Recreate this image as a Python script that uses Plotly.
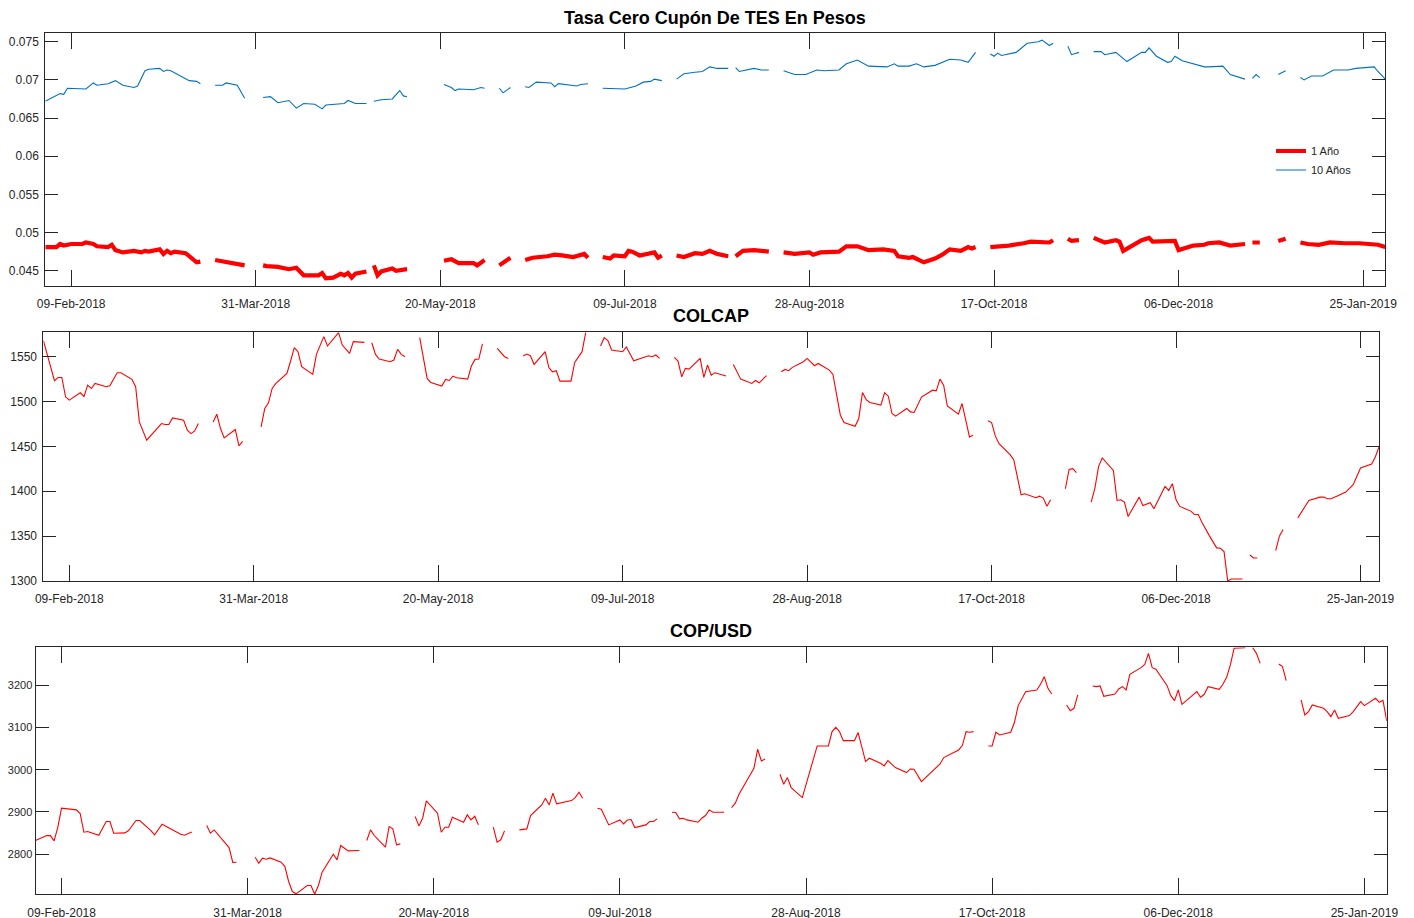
import pandas as pd
import plotly.graph_objects as go

# all series are indexed in days since ORIGIN; None marks a day without a quote
ORIGIN = "2018-02-02"
X_END_TES = 363
X_END_COLCAP = 362
X_END_COP = 363

x_tick_dates = ["2018-02-09", "2018-03-31", "2018-05-20", "2018-07-09",
                "2018-08-28", "2018-10-17", "2018-12-06", "2019-01-25"]

# -----------------------------------------------------------------------------
# Tasa cero cupon TES (1 y 10 anos)
# -----------------------------------------------------------------------------
tes_1y_day = [0, 3, 4, 5, 7, 10, 11, 13, 14, 17, 18, 19, 21, 24, 26, 27, 28, 31, 32, 33,
              34, 35, 38, 40, 41, 42, 44, 46, 49, 54, 56, 59, 60, 63, 66, 68, 70, 74, 75,
              76, 78, 80, 81, 82, 83, 84, 87, 88, 89, 90, 91, 94, 95, 98, 103, 108, 110,
              112, 116, 117, 119, 121, 123, 126, 128, 130, 132, 136, 138, 140, 143, 146,
              147, 149, 151, 153, 154, 157, 158, 159, 161, 164, 165, 166, 167, 169, 171,
              173, 176, 178, 180, 182, 185, 186, 187, 189, 192, 196, 198, 200, 203, 207,
              208, 210, 215, 217, 220, 223, 227, 230, 231, 234, 235, 238, 241, 243, 245,
              248, 250, 251, 252, 254, 256, 261, 265, 267, 272, 273, 275, 277, 278, 280,
              282, 284, 287, 290, 291, 292, 297, 299, 300, 306, 307, 311, 314, 315, 318,
              321, 325, 326, 327, 329, 331, 334, 336, 338, 340, 342, 345, 348, 352, 356,
              361, 363]
tes_1y = [0.0481, 0.0481, 0.0485, 0.0483, 0.0485, 0.0485, 0.0487, 0.0485, 0.0482, 0.0481,
          0.0484, 0.0477, 0.0474, 0.0476, 0.0474, 0.0476, 0.0475, 0.0478, 0.0472, 0.0476,
          0.0473, 0.0475, 0.0473, 0.0464, 0.0461, 0.0462, None, 0.0464, 0.0461, 0.0457,
          None, 0.0457, 0.0456, 0.0455, 0.0452, 0.0454, 0.0444, 0.0444, 0.0447, 0.0440,
          0.0441, 0.0446, 0.0444, 0.0447, 0.0441, 0.0446, 0.0449, None, 0.0457, 0.0444,
          0.0449, 0.0453, 0.0450, 0.0452, None, 0.0463, 0.0465, 0.0460, 0.0460, 0.0457,
          0.0464, None, 0.0457, 0.0467, None, 0.0464, 0.0467, 0.0469, 0.0471, 0.0470,
          0.0468, 0.0472, 0.0467, None, 0.0468, 0.0466, 0.0470, 0.0469, 0.0476, 0.0475,
          0.0470, 0.0473, 0.0474, 0.0467, 0.0470, None, 0.0470, 0.0468, 0.0473, 0.0472,
          0.0476, 0.0472, 0.0469, None, 0.0469, 0.0476, 0.0477, 0.0475, None, 0.0474,
          0.0472, 0.0474, 0.0471, 0.0474, 0.0475, 0.0482, 0.0482, 0.0477, 0.0478, 0.0476,
          0.0469, 0.0467, 0.0468, 0.0461, 0.0466, 0.0471, 0.0478, 0.0476, 0.0481, 0.0479,
          0.0481, None, 0.0481, 0.0483, 0.0486, 0.0488, 0.0487, 0.0490, None, 0.0492,
          0.0489, 0.0490, None, 0.0493, 0.0487, 0.0490, 0.0488, 0.0476, 0.0490, 0.0493,
          0.0488, 0.0489, 0.0477, 0.0483, 0.0484, 0.0486, 0.0487, 0.0483, 0.0485, None,
          0.0487, 0.0487, None, 0.0489, 0.0492, None, 0.0487, 0.0485, 0.0484, 0.0487,
          0.0486, 0.0486, 0.0484, 0.0481]

tes_10y_day = [0, 4, 5, 6, 11, 13, 14, 17, 19, 21, 24, 25, 27, 28, 31, 32, 33, 34, 39, 41,
               42, 44, 46, 48, 49, 52, 54, 56, 59, 61, 63, 66, 68, 70, 73, 75, 76, 81, 82,
               84, 87, 88, 89, 91, 94, 96, 97, 98, 103, 108, 110, 111, 112, 116, 118, 119,
               121, 123, 124, 126, 128, 130, 131, 133, 137, 138, 139, 144, 145, 147, 149,
               151, 157, 160, 162, 164, 165, 167, 169, 171, 173, 176, 178, 180, 182, 185,
               186, 187, 188, 192, 194, 196, 198, 200, 203, 206, 209, 211, 215, 217, 220,
               223, 228, 230, 231, 234, 236, 238, 241, 245, 248, 250, 252, 254, 256, 257,
               258, 259, 263, 266, 269, 270, 272, 273, 275, 277, 278, 280, 282, 284, 286,
               287, 290, 293, 297, 298, 299, 301, 304, 305, 306, 308, 312, 314, 315, 319,
               321, 325, 326, 327, 328, 329, 331, 334, 336, 338, 340, 341, 343, 346, 349,
               353, 355, 357, 360, 361, 363]
tes_10y = [0.0672, 0.0682, 0.0681, 0.0689, 0.0688, 0.0696, 0.0693, 0.0695, 0.0699, 0.0693,
           0.0690, 0.0692, 0.0712, 0.0714, 0.0715, 0.0711, 0.0713, 0.0712, 0.0699, 0.0698,
           0.0695, None, 0.0693, 0.0693, 0.0696, 0.0693, 0.0676, None, 0.0677, 0.0678,
           0.0670, 0.0673, 0.0663, 0.0669, 0.0668, 0.0662, 0.0667, 0.0669, 0.0673, 0.0669,
           0.0669, None, 0.0672, 0.0674, 0.0675, 0.0686, 0.0679, 0.0678, None, 0.0694,
           0.0690, 0.0686, 0.0688, 0.0687, 0.0690, 0.0689, None, 0.0689, 0.0683, 0.0690,
           None, 0.0691, 0.0690, 0.0697, 0.0696, 0.0691, 0.0695, 0.0692, 0.0694, 0.0695,
           None, 0.0689, 0.0688, 0.0692, 0.0697, 0.0698, 0.0701, 0.0699, None, 0.0701,
           0.0708, 0.0710, 0.0711, 0.0717, 0.0715, 0.0715, None, 0.0716, 0.0711, 0.0715,
           0.0713, 0.0713, None, 0.0712, 0.0707, 0.0707, 0.0713, 0.0712, 0.0713, 0.0721,
           0.0726, 0.0718, 0.0717, 0.0721, 0.0718, 0.0718, 0.0721, 0.0717, 0.0719, 0.0727,
           0.0726, 0.0723, 0.0736, None, 0.0734, 0.0731, 0.0735, 0.0732, 0.0736, 0.0748,
           0.0750, 0.0752, 0.0745, 0.0748, None, 0.0744, 0.0733, 0.0736, None, 0.0737,
           0.0737, 0.0733, 0.0736, 0.0724, 0.0736, 0.0736, 0.0742, 0.0731, 0.0723, 0.0724,
           0.0731, 0.0725, 0.0719, 0.0717, 0.0717, 0.0718, 0.0707, 0.0701, None, 0.0702,
           0.0707, 0.0703, None, 0.0707, 0.0712, None, 0.0703, 0.0700, 0.0705, 0.0705,
           0.0713, 0.0713, 0.0715, 0.0716, 0.0717, 0.0711, 0.0701]

# -----------------------------------------------------------------------------
# COLCAP
# -----------------------------------------------------------------------------
colcap_day = [0, 3, 4, 5, 6, 7, 10, 11, 12, 13, 14, 17, 18, 20, 21, 24, 25, 26, 28, 32,
              33, 34, 35, 38, 39, 40, 41, 42, 44, 46, 47, 48, 49, 52, 53, 54, 56, 59, 60,
              61, 62, 63, 66, 67, 68, 69, 70, 73, 74, 76, 77, 80, 81, 83, 84, 87, 88, 89,
              90, 91, 94, 95, 96, 97, 98, 100, 102, 104, 105, 108, 109, 110, 111, 112, 115,
              116, 117, 118, 119, 121, 123, 125, 126, 128, 130, 131, 132, 133, 136, 137,
              138, 139, 140, 143, 144, 146, 147, 149, 151, 152, 153, 154, 157, 158, 160,
              164, 165, 166, 167, 169, 171, 172, 173, 174, 175, 178, 179, 180, 181, 182,
              185, 186, 187, 189, 192, 193, 194, 196, 198, 200, 201, 202, 203, 206, 207,
              209, 210, 213, 214, 216, 217, 220, 221, 222, 223, 224, 227, 228, 229, 230,
              231, 234, 235, 236, 238, 241, 242, 243, 244, 245, 248, 249, 251, 252, 254,
              256, 257, 258, 259, 262, 263, 265, 266, 269, 270, 271, 272, 273, 275, 277,
              278, 279, 280, 282, 284, 285, 286, 287, 290, 291, 292, 293, 294, 297, 298,
              300, 301, 304, 305, 306, 307, 308, 311, 312, 313, 314, 316, 318, 319, 320,
              321, 322, 325, 326, 327, 328, 329, 331, 334, 335, 336, 338, 340, 342, 343,
              346, 347, 348, 349, 351, 353, 355, 357, 360, 361, 362]
colcap = [1567.9, 1523.2, 1526.9, 1526.9, 1505.3, 1501.6, 1509.8, 1505.7, 1518.3, 1514.6,
          1520.2, 1516.5, 1517.6, 1532.1, 1532.1, 1524.7, 1516.5, 1477.3, 1456.9, 1475.5,
          1474.4, 1474.4, 1481.8, 1479.2, 1468.0, 1464.3, 1467.3, 1475.5, None, 1477.3,
          1485.9, 1469.9, 1459.5, 1468.8, 1450.5, 1455.7, None, 1471.8, 1492.3, 1498.6,
          1514.6, 1520.2, 1531.4, 1545.2, 1560.1, 1555.6, 1538.8, 1530.3, 1552.6, 1572.4,
          1561.9, 1576.8, 1563.0, 1553.7, 1566.8, 1566.0, None, 1565.6, 1552.6, 1547.4,
          1544.4, 1546.3, 1558.2, 1552.6, 1550.0, None, 1571.2, 1525.8, 1521.3, 1517.2,
          1524.7, 1523.5, 1528.4, 1526.5, 1525.0, 1539.6, 1547.0, 1547.4, 1564.2, None,
          1559.3, 1550.0, 1548.1, None, 1550.7, 1553.0, 1551.1, 1541.4, 1555.6, 1537.7,
          1533.2, 1534.4, 1522.8, 1522.8, 1543.7, 1555.6, 1577.2, None, 1561.9, 1571.2,
          1567.9, 1557.5, 1555.6, 1560.8, 1545.5, 1551.1, 1550.0, 1551.9, 1548.1, None,
          1549.3, 1545.2, 1527.6, 1537.0, 1536.2, 1548.1, 1526.9, 1540.7, 1529.5, 1532.1,
          1528.4, None, 1541.4, 1525.0, 1520.2, 1523.5, 1520.9, 1528.8, None, 1533.2,
          1535.8, 1534.4, 1538.1, 1544.4, 1548.1, 1539.9, 1542.5, 1535.1, 1530.3, 1484.8,
          1476.6, 1472.5, 1481.1, 1510.1, 1502.2, 1499.0, 1496.0, 1509.8, 1506.0, 1486.7,
          1483.7, 1492.2, 1488.5, 1487.8, 1505.0, 1512.7, 1512.0, 1525.0, 1518.3, 1495.2,
          1485.9, 1497.8, 1460.6, 1462.4, None, 1478.5, 1476.6, 1461.7, 1453.1, 1440.8,
          1435.2, 1396.1, 1397.2, 1392.8, 1394.6, 1392.4, 1383.4, 1390.5, None, 1402.8,
          1424.4, 1425.2, 1420.7, None, 1387.9, 1403.6, 1427.8, 1437.1, 1423.3, 1389.8,
          1390.5, 1387.9, 1371.9, 1393.5, 1384.2, 1387.2, 1380.5, 1405.4, 1400.9, 1408.4,
          1390.5, 1383.1, 1377.9, 1374.1, 1374.1, 1365.6, 1350.6, 1336.9, 1336.5, 1332.8,
          1300.0, 1302.2, 1302.2, None, 1329.0, 1325.7, 1325.7, None, 1333.9, 1349.9,
          1357.4, None, 1370.4, 1384.2, 1389.8, 1393.5, 1393.5, 1391.6, 1391.6, 1395.4,
          1399.1, 1407.3, 1425.9, 1430.4, 1438.2, 1449.4]

# -----------------------------------------------------------------------------
# COP/USD
# -----------------------------------------------------------------------------
cop_day = [0, 3, 4, 5, 6, 7, 11, 12, 13, 14, 17, 19, 20, 21, 24, 25, 27, 28, 31, 32, 34,
           39, 40, 42, 44, 46, 47, 48, 52, 53, 54, 56, 59, 60, 61, 62, 63, 66, 67, 68, 69,
           70, 73, 74, 75, 76, 77, 80, 81, 82, 84, 87, 88, 89, 90, 91, 94, 95, 96, 97, 98,
           100, 102, 103, 104, 105, 108, 109, 110, 111, 112, 115, 116, 117, 118, 119, 121,
           123, 124, 125, 126, 128, 130, 132, 133, 136, 137, 138, 139, 140, 144, 145, 146,
           147, 149, 151, 152, 154, 157, 158, 159, 160, 161, 164, 165, 166, 167, 169, 171,
           172, 173, 174, 175, 178, 179, 180, 181, 182, 185, 186, 187, 188, 189, 193, 194,
           195, 196, 198, 200, 201, 202, 203, 206, 210, 213, 214, 215, 216, 217, 220, 221,
           223, 224, 227, 228, 229, 231, 234, 235, 236, 238, 241, 243, 244, 248, 249, 250,
           251, 252, 254, 256, 257, 258, 259, 262, 263, 264, 266, 269, 270, 271, 272, 273,
           275, 277, 278, 279, 280, 282, 284, 285, 286, 287, 290, 291, 292, 293, 294, 297,
           298, 299, 300, 301, 304, 305, 306, 307, 308, 312, 313, 314, 315, 318, 319, 320,
           321, 322, 325, 326, 327, 328, 329, 331, 334, 335, 336, 338, 340, 341, 342, 343,
           346, 347, 348, 349, 350, 353, 354, 356, 357, 360, 361, 362, 363]
cop = [2832.3, 2844.0, 2844.0, 2831.5, 2863.9, 2908.9, 2905.0, 2896.2, 2852.0, 2853.6,
       2844.9, 2877.3, 2877.3, 2849.7, 2850.5, 2856.0, 2879.7, 2879.7, 2856.0, 2845.7,
       2870.9, 2847.3, 2844.9, 2852.8, None, 2867.8, 2849.7, 2857.5, 2815.8, 2780.3,
       2781.0, None, 2792.9, 2778.7, 2790.5, 2788.1, 2791.3, 2781.0, 2770.8, 2735.3,
       2711.6, 2706.1, 2725.8, 2725.8, 2705.3, 2725.8, 2757.4, 2800.0, 2786.6, 2820.5,
       2807.9, 2808.7, None, 2832.3, 2857.6, 2844.2, 2816.5, 2865.4, 2859.9, 2822.0,
       2824.4, None, 2889.1, 2867.0, 2885.2, 2926.2, 2897.0, 2852.0, 2863.9, 2863.9,
       2887.6, 2875.7, 2893.1, 2881.2, 2889.9, 2869.4, None, 2863.9, 2828.4, 2834.0,
       2855.2, None, 2857.6, 2859.9, 2891.5, 2916.7, 2932.5, 2916.7, 2944.4, 2919.1,
       2927.0, 2934.1, 2946.7, 2932.5, None, 2908.9, 2906.5, 2869.4, 2881.2, 2871.8,
       2881.2, 2882.0, 2863.1, 2869.4, 2877.3, 2877.3, 2883.6, None, 2899.4, 2898.6,
       2883.6, 2885.2, 2881.2, 2875.7, 2885.2, 2891.5, 2904.9, 2899.4, 2899.4, None,
       2910.4, 2920.7, 2942.0, 3003.2, 3048.5, 3020.9, 3025.6, None, 2989.3, 2965.7,
       2981.4, 2957.8, 2934.1, 3056.4, 3056.4, 3090.3, 3100.6, 3090.3, 3069.0, 3069.0,
       3088.0, 3019.3, 3027.2, 3015.4, 3009.1, 3021.7, 3005.1, 2993.3, 3001.9, 3001.2,
       2972.0, 2995.7, 3013.8, 3028.8, 3046.9, 3057.2, 3090.3, 3088.8, 3090.3, None,
       3056.4, 3056.4, 3088.8, 3082.4, 3088.8, 3112.4, 3151.9, 3185.0, 3189.0, 3202.4,
       3220.5, 3192.9, 3179.5, None, 3153.4, 3140.0, 3145.6, 3177.1, None, 3198.4,
       3196.8, 3198.4, 3174.0, 3179.5, 3191.3, 3196.8, 3189.0, 3226.0, 3241.8, 3249.7,
       3275.7, 3241.8, 3237.9, 3199.2, 3175.5, 3163.7, 3189.0, 3155.0, 3185.0, 3171.6,
       3178.7, 3196.8, 3190.5, 3202.4, 3219.0, 3248.2, 3287.6, 3289.0, None, 3289.0,
       3275.7, 3252.0, None, 3250.5, 3244.2, 3211.0, None, 3165.3, 3129.8, 3137.7,
       3153.4, 3145.6, 3137.7, 3125.8, 3141.6, 3121.9, 3128.2, 3137.7, 3161.3, 3151.9,
       3169.2, 3159.8, 3164.5, 3115.6]

tes_ticks = [0.045, 0.05, 0.055, 0.06, 0.065, 0.07, 0.075]
colcap_ticks = [1300, 1350, 1400, 1450, 1500, 1550]
cop_ticks = [2800, 2900, 3000, 3100, 3200]


def to_dates(days):
    return pd.Timestamp(ORIGIN) + pd.to_timedelta(days, unit="D")


AX = "#262626"
FONT = "Liberation Sans, Arial, Helvetica, sans-serif"

fig = go.Figure()
fig.add_trace(go.Scatter(x=to_dates(tes_1y_day), y=tes_1y, mode="lines", name="1 Año",
                         line=dict(color="#FF0000", width=4.2), xaxis="x", yaxis="y"))
fig.add_trace(go.Scatter(x=to_dates(tes_10y_day), y=tes_10y, mode="lines", name="10 Años",
                         line=dict(color="#0072BD", width=1.1), xaxis="x", yaxis="y"))
fig.add_trace(go.Scatter(x=to_dates(colcap_day), y=colcap, mode="lines", showlegend=False,
                         line=dict(color="#FF0000", width=1.1), xaxis="x2", yaxis="y2"))
fig.add_trace(go.Scatter(x=to_dates(cop_day), y=cop, mode="lines", showlegend=False,
                         line=dict(color="#FF0000", width=1.1), xaxis="x3", yaxis="y3"))


def xaxis(domain, anchor, end_day):
    return dict(domain=domain, anchor=anchor, type="date", automargin=False,
                range=[to_dates([0])[0], to_dates([end_day])[0]],
                tickvals=x_tick_dates, tickformat="%d-%b-%Y",
                ticks="inside", ticklen=16, tickcolor=AX, tickwidth=1,
                ticklabelstandoff=7,
                showline=True, linecolor=AX, linewidth=1, mirror="ticks",
                showgrid=False, zeroline=False,
                tickfont=dict(family=FONT, size=12, color=AX))


def yaxis(domain, anchor, rng, ticks, size=12, standoff=3):
    return dict(domain=domain, anchor=anchor, range=rng, automargin=False,
                tickvals=ticks, ticktext=[f"{t:g}" for t in ticks],
                ticks="inside", ticklen=13, tickcolor=AX, tickwidth=1,
                ticklabelstandoff=standoff,
                showline=True, linecolor=AX, linewidth=1, mirror="ticks",
                showgrid=False, zeroline=False,
                tickfont=dict(family=FONT, size=size, color=AX))


fig.update_layout(
    width=1414, height=918, autosize=False,
    margin=dict(l=0, r=0, t=0, b=0, autoexpand=False),
    paper_bgcolor="white", plot_bgcolor="white",
    font=dict(family=FONT, color=AX),
    xaxis=xaxis([0.02638, 0.97405], "y", X_END_TES),
    yaxis=yaxis([0.69717, 0.97244], "x", [0.043, 0.0761], tes_ticks),
    xaxis2=xaxis([0.02504, 0.96959], "y2", X_END_COLCAP),
    yaxis2=yaxis([0.37582, 0.64673], "x2", [1300, 1577.2], colcap_ticks),
    xaxis3=xaxis([0.01945, 0.97504], "y3", X_END_COP),
    yaxis3=yaxis([0.03453, 0.30359], "x3", [2705, 3290], cop_ticks, size=11, standoff=0),
    legend=dict(x=0.8932, y=0.8600, xanchor="left", yanchor="top",
                bgcolor="rgba(0,0,0,0)", borderwidth=0,
                font=dict(family=FONT, size=11, color=AX), tracegroupgap=0),
    annotations=[
        dict(text="Tasa Cero Cupón De TES En Pesos", x=0.49965, y=0.9894, xref="paper",
             yref="paper", showarrow=False, xanchor="center", yanchor="middle",
             font=dict(family=FONT, size=18, color="black", weight="bold")),
        dict(text="COLCAP", x=0.4972, y=0.6645, xref="paper", yref="paper",
             showarrow=False, xanchor="center", yanchor="middle",
             font=dict(family=FONT, size=18, color="black", weight="bold")),
        dict(text="COP/USD", x=0.4972, y=0.3214, xref="paper", yref="paper",
             showarrow=False, xanchor="center", yanchor="middle",
             font=dict(family=FONT, size=18, color="black", weight="bold")),
    ],
)

fig.write_html("out.html")
